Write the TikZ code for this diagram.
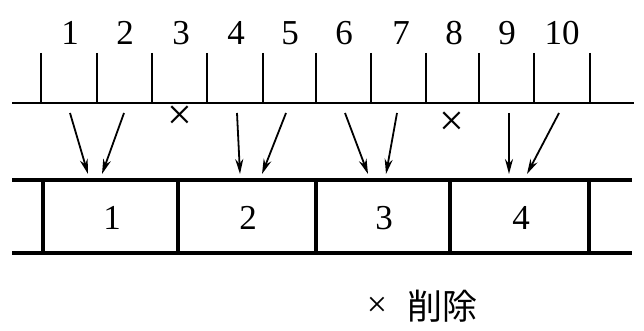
\documentclass[tikz,border=0pt]{standalone}
\usepackage{fontspec}
\setmainfont{Liberation Serif}
\newfontfamily\cjk{Noto Sans CJK JP}
\usetikzlibrary{arrows.meta}
\tikzset{
  num/.style={font=\fontsize{35}{35}\selectfont, inner sep=0pt, anchor=center},
  tick/.style={line width=1.8pt},
  rail/.style={line width=2.6pt},
  boxline/.style={line width=3.4pt},
  feed/.style={line width=1.8pt, -{Stealth[length=15pt,width=8pt]}},
  cross/.style={font=\fontsize{44}{44}\selectfont, inner sep=0pt}
}
\begin{document}
\begin{tikzpicture}[x=1pt,y=-1pt]
\useasboundingbox (0,0) rectangle (644,331);
% top scale
\draw[rail] (12,103) -- (634,103);
\foreach \x in {41,97,152,207,263,316,371,426,479,534,590}
  \draw[tick] (\x,53) -- (\x,103);
\foreach \i/\x in {1/70,2/125,3/181,4/236,5/290,6/344,7/401,8/454,9/507,10/562}
  \node[num] (n\i) at (\x,33) {\i};
% deleted marks
\node[cross] (x3) at (180,118) {×};
\node[cross] (x8) at (452,124) {×};
% bottom row
\draw[boxline] (12,180) -- (632,180);
\draw[boxline] (12,253) -- (632,253);
\foreach \x in {43,178,316,450,589}
  \draw[boxline] (\x,180) -- (\x,253);
\foreach \i/\x in {1/112,2/248,3/384,4/521}
  \node[num] (b\i) at (\x,218) {\i};
% arrow start / end points
\foreach \i/\sx/\ex in {1/70/88,2/124/102,4/237/240,5/286/262,6/345/368,7/397/386,9/509/509,10/559/527}{
  \coordinate (s\i) at (\sx,113);
  \coordinate (e\i) at (\ex,174);
  \draw[feed] (s\i) -- (e\i);
}
% legend
\node[cross, font=\fontsize{36}{36}\selectfont] (lx) at (377,307) {×};
\node[font=\cjk\fontsize{35}{35}\selectfont, inner sep=0pt, anchor=west] (ld) at (407,306) {削除};
\end{tikzpicture}
\end{document}
